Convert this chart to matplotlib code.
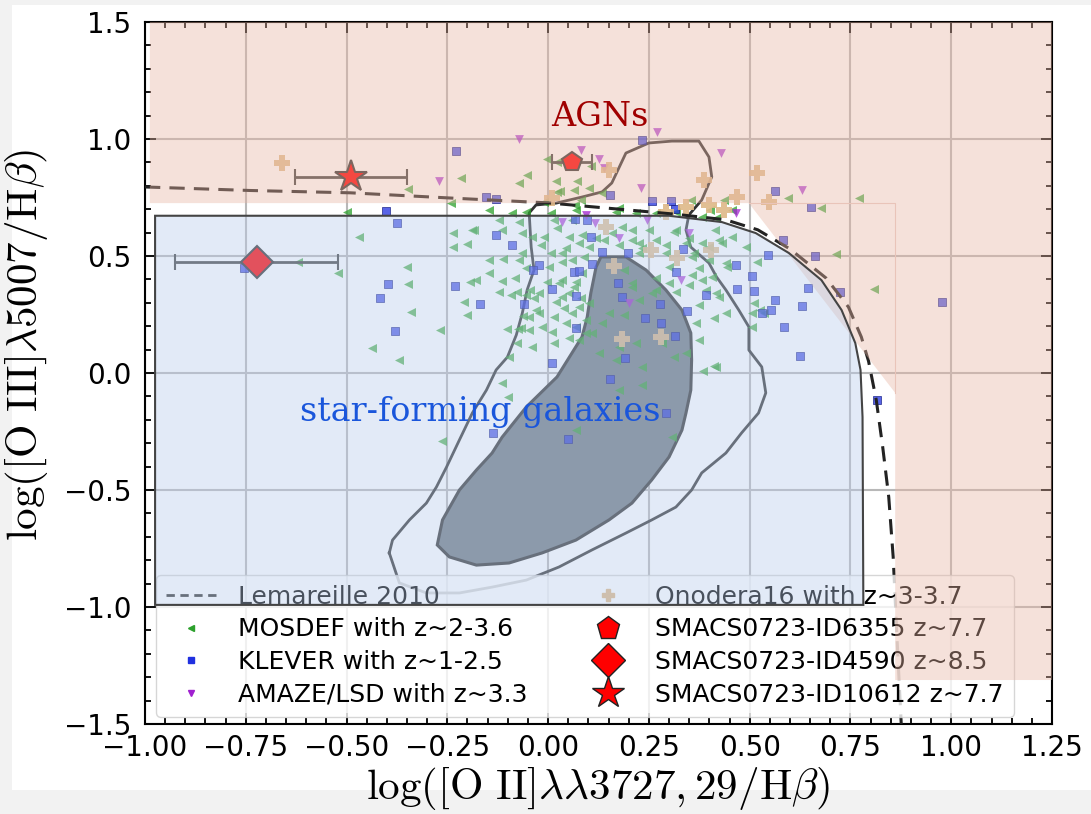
import matplotlib
matplotlib.use('Agg')
import matplotlib.pyplot as plt
from matplotlib.patches import Polygon, Rectangle
from matplotlib.lines import Line2D
from matplotlib.ticker import MultipleLocator, AutoMinorLocator

# Fonts: sans for ticks/legend, computer-modern math for axis labels
plt.rcParams['font.family'] = ['DejaVu Sans']
plt.rcParams['mathtext.fontset'] = 'cm'

# ---------------- data ----------------
# MOSDEF z~2-3.6 (green left triangles)
mosdef_x = [-0.215, -0.347, -0.072, -0.052, -0.002, 0.020, 0.072, 0.106, 0.030, 0.064,
            0.101, -0.500, -0.240, -0.146, -0.468, -0.235, -0.235, -0.200, -0.188, -0.621,
            -0.522, -0.349, -0.347, -0.193, -0.114, -0.082, -0.146, -0.111, -0.064, -0.208,
            -0.200, -0.339, -0.267, -0.438, -0.101, -0.047, -0.121, -0.040, -0.010, 0.015,
            0.059, 0.052, 0.045, 0.077, 0.101, 0.158, 0.176, 0.208, 0.007, 0.035,
            0.002, -0.002, 0.027, 0.052, 0.020, -0.022, 0.015, 0.059, -0.054, 0.077,
            0.101, 0.010, 0.052, 0.094, 0.188, 0.208, -0.369, -0.114, -0.077, -0.067,
            -0.146, -0.092, -0.045, -0.074, -0.015, -0.099, -0.262, 0.035, 0.064, 0.040,
            0.069, 0.094, 0.035, -0.030, -0.062, 0.225, 0.267, 0.151, 0.188, 0.134,
            0.109, 0.218, 0.176, 0.282, 0.312, 0.342, 0.233, 0.126, 0.168, 0.208,
            0.257, 0.366, 0.411, 0.384, 0.317, 0.299, 0.267, 0.391, 0.416, 0.356,
            0.374, 0.361, 0.398, 0.441, 0.292, 0.225, 0.084, 0.059, 0.089, 0.225,
            0.292, 0.381, 0.431, 0.022, 0.067, -0.010, -0.089, -0.054, 0.007, 0.069,
            0.168, 0.218, 0.267, 0.317, 0.381, 0.416, -0.183, -0.114, -0.072, -0.064,
            -0.017, 0.022, 0.084, 0.119, 0.139, 0.183, 0.208, 0.233, 0.250, 0.267,
            0.312, 0.342, 0.356, 0.398, 0.381, -0.072, -0.054, 0.035, 0.069, -0.022,
            0.082, -0.035, -0.178, -0.121, -0.047, 0.045, 0.015, -0.077, -0.040, 0.077,
            -0.097, 0.299, 0.349, 0.374, 0.411, 0.374, 0.022, 0.134, 0.082, 0.176,
            0.354, 0.401, 0.436, 0.455, 0.317, 0.349, 0.423, 0.455, 0.490, 0.517,
            0.406, 0.423, 0.441, 0.505, 0.535, 0.505, 0.510, 0.594, 0.678, 0.772,
            0.715, 0.809, 0.443, 0.413, 0.525, 0.416, 0.069, 0.176, 0.233, 0.307]
mosdef_y = [0.833, 0.786, 0.812, 0.846, 0.915, 0.821, 0.821, 0.885, 0.778, 0.782,
            0.791, 0.688, 0.727, 0.697, 0.581, 0.598, 0.539, 0.551, 0.611, 0.474,
            0.427, 0.453, 0.380, 0.389, 0.393, 0.406, 0.483, 0.487, 0.513, 0.303,
            0.248, 0.261, 0.184, 0.107, 0.188, 0.184, 0.654, 0.581, 0.581, 0.654,
            0.654, 0.581, 0.534, 0.556, 0.539, 0.598, 0.547, 0.568, 0.513, 0.513,
            0.453, 0.389, 0.385, 0.342, 0.303, 0.256, 0.239, 0.256, 0.333, 0.282,
            0.299, 0.175, 0.150, 0.171, 0.440, 0.368, 0.056, -0.043, 0.346, 0.192,
            0.427, 0.333, 0.355, 0.188, 0.197, -0.103, -0.291, 0.397, 0.368, 0.278,
            0.197, 0.227, 0.325, 0.269, 0.244, 0.312, 0.355, 0.256, 0.248, 0.214,
            0.171, 0.128, 0.111, 0.128, 0.068, 0.085, 0.026, 0.085, 0.056, 0.385,
            0.342, 0.214, 0.030, 0.009, 0.346, 0.385, 0.406, 0.355, 0.342, 0.419,
            0.449, 0.513, 0.483, 0.470, 0.513, 0.513, 0.427, 0.483, 0.496, 0.556,
            0.547, 0.556, 0.556, 0.774, 0.718, 0.731, 0.684, 0.688, 0.684, 0.697,
            0.688, 0.684, 0.684, 0.688, 0.667, 0.662, 0.611, 0.611, 0.645, 0.598,
            0.547, 0.620, 0.590, 0.577, 0.568, 0.624, 0.611, 0.534, 0.611, 0.568,
            0.603, 0.556, 0.496, 0.539, 0.397, 0.483, 0.449, 0.474, 0.389, 0.342,
            0.321, 0.321, 0.397, 0.346, 0.239, 0.214, 0.128, 0.128, 0.111, 0.141,
            0.068, 0.453, 0.376, 0.141, 0.235, 0.291, 0.902, 0.769, 0.739, 0.705,
            0.739, 0.697, 0.739, 0.697, 0.611, 0.577, 0.568, 0.581, 0.539, 0.474,
            0.410, 0.325, 0.256, 0.256, 0.256, 0.197, 0.299, 0.748, 0.705, 0.748,
            0.509, 0.359, 0.453, 0.611, 0.269, 0.026, -0.244, -0.073, -0.051, -0.274]

# KLEVER z~1-2.5 (blue squares)
klever_x = [-0.228, -0.153, -0.129, -0.403, -0.376, -0.129, -0.089, -0.022, -0.037, -0.398,
            -0.416, -0.230, -0.168, -0.059, -0.381, -0.755, 0.010, 0.064, 0.069, 0.109,
            0.134, 0.198, 0.173, 0.183, 0.153, 0.106, 0.257, 0.304, 0.314, 0.067,
            0.097, 0.077, 0.069, 0.277, 0.240, 0.280, 0.314, 0.334, 0.317, 0.344,
            0.391, 0.191, 0.153, 0.465, 0.468, 0.292, 0.010, -0.136, 0.050, 0.233,
            0.510, 0.505, 0.564, 0.530, 0.584, 0.629, 0.644, 0.626, 0.582, 0.545,
            0.661, 0.723, 0.653, 0.562, 0.978, 0.817, 0.554]
klever_y = [0.949, 0.752, 0.744, 0.692, 0.641, 0.590, 0.547, 0.462, 0.440, 0.380,
            0.321, 0.372, 0.295, 0.295, 0.179, 0.449, 0.359, 0.432, 0.192, 0.466,
            0.517, 0.513, 0.385, 0.325, 0.761, 0.581, 0.735, 0.735, 0.701, 0.658,
            0.654, 0.436, 0.329, 0.295, 0.235, 0.214, 0.158, 0.530, 0.432, 0.265,
            0.333, 0.064, -0.026, 0.462, 0.359, -0.171, 0.043, -0.256, -0.282, 0.996,
            0.350, 0.415, 0.312, 0.256, 0.197, 0.286, 0.363, 0.073, 0.568, 0.504,
            0.500, 0.346, 0.709, 0.778, 0.303, -0.115, 0.269]

# AMAZE/LSD z~3.3 (purple down triangles)
amaze_x = [-0.072, -0.270, 0.082, 0.126, 0.139, 0.035, 0.094, 0.176, 0.270, 0.230,
           0.428, 0.465, 0.329, 0.349, 0.116, 0.245, 0.631, 0.200]
amaze_y = [1.000, 0.821, 0.953, 0.915, 0.876, 0.645, 0.675, 0.577, 1.030, 0.791,
           0.940, 0.684, 0.397, 0.598, 0.641, 0.654, 0.782, 0.299]

# Onodera16 z~3-3.7 (tan plus)
onodera_x = [-0.661, 0.151, 0.010, 0.144, 0.163, 0.183, 0.386, 0.517, 0.468, 0.547,
             0.398, 0.436, 0.342, 0.292, 0.403, 0.319, 0.255, 0.280]
onodera_y = [0.897, 0.868, 0.748, 0.624, 0.457, 0.145, 0.825, 0.855, 0.752, 0.731,
             0.718, 0.697, 0.710, 0.688, 0.526, 0.491, 0.526, 0.154]

# SMACS0723 sources: x, y, x error
id6355 = (0.059, 0.902, 0.05)
id4590 = (-0.723, 0.474, 0.203)
id10612 = (-0.488, 0.838, 0.139)

# Lemareille 2010 demarcation
lem_x = [-1.0, -0.74, -0.49, -0.245, 0.0, 0.144, 0.307, 0.44, 0.52, 0.60, 0.69, 0.745,
         0.777, 0.795, 0.814, 0.83, 0.845, 0.856, 0.866, 0.876]
lem_y = [0.795, 0.78, 0.77, 0.748, 0.727, 0.705, 0.68, 0.655, 0.612, 0.53, 0.405, 0.282,
         0.154, 0.05, -0.115, -0.316, -0.53, -0.786, -1.15, -1.5]

# density contours of local SDSS galaxies
outer_x = [-0.394, -0.386, -0.344, -0.302, -0.277, -0.252, -0.220, -0.188, -0.153, -0.129,
           -0.101, -0.079, -0.064, -0.052, -0.035, -0.042, -0.047, -0.030, 0.020, 0.084,
           0.134, 0.158, 0.193, 0.250, 0.307, 0.374, 0.399, 0.406, 0.381, 0.349,
           0.342, 0.354, 0.399, 0.418, 0.441, 0.473, 0.498, 0.498, 0.530, 0.540,
           0.522, 0.480, 0.441, 0.381, 0.356, 0.317, 0.257, 0.193, 0.109, 0.027,
           -0.054, -0.139, -0.220, -0.302, -0.369]
outer_y = [-0.769, -0.714, -0.628, -0.556, -0.487, -0.402, -0.286, -0.171, -0.073, 0.013,
           0.068, 0.162, 0.256, 0.355, 0.440, 0.538, 0.684, 0.718, 0.726, 0.752,
           0.774, 0.812, 0.940, 0.983, 0.991, 0.991, 0.923, 0.838, 0.739, 0.675,
           0.611, 0.538, 0.470, 0.410, 0.355, 0.269, 0.197, 0.098, 0.026, -0.085,
           -0.171, -0.256, -0.342, -0.427, -0.500, -0.573, -0.628, -0.684, -0.756, -0.829,
           -0.885, -0.915, -0.940, -0.940, -0.897]
inner_x = [0.131, 0.193, 0.243, 0.292, 0.332, 0.354, 0.356, 0.354, 0.342, 0.332,
           0.300, 0.257, 0.208, 0.151, 0.069, -0.015, -0.097, -0.178, -0.245, -0.275,
           -0.262, -0.220, -0.178, -0.139, -0.114, -0.054, 0.022, 0.059, 0.084, 0.097,
           0.106, 0.119]
inner_y = [0.496, 0.496, 0.440, 0.355, 0.269, 0.171, 0.056, -0.073, -0.171, -0.244,
           -0.359, -0.457, -0.556, -0.628, -0.714, -0.769, -0.812, -0.821, -0.786, -0.735,
           -0.628, -0.500, -0.415, -0.342, -0.274, -0.145, -0.017, 0.085, 0.154, 0.239,
           0.342, 0.453]

# shaded classification regions
agn_x = [-0.988, 1.26, 1.26, 0.861, 0.861, 0.498, -0.988]
agn_y = [1.5, 1.5, -1.312, -1.312, -0.085, 0.726, 0.726]
sf_x = [-0.975, -0.975, 0.30, 0.431, 0.515, 0.597, 0.678, 0.728, 0.762, 0.775, 0.780, 0.782]
sf_y = [-0.991, 0.672, 0.672, 0.645, 0.598, 0.513, 0.397, 0.269, 0.128, 0.013, -0.188, -0.991]
seam_x = [0.498, 0.861, 0.861]
seam_y = [0.726, 0.726, -0.085]


def main():
    fig = plt.figure(figsize=(10.91, 8.14), dpi=100)
    fig.patch.set_facecolor('#f2f2f2')
    fig.patches.append(Rectangle((12 / 1091, 1 - 790 / 814), 1, (790 - 5) / 814,
                                 transform=fig.transFigure, facecolor='white',
                                 edgecolor='none', zorder=-10))
    ax = fig.add_axes([145 / 1091, 1 - 724 / 814, 907 / 1091, 702 / 814])

    # contours
    ax.plot(outer_x + outer_x[:1], outer_y + outer_y[:1], color='#333333', lw=2, zorder=1)
    ax.add_patch(Polygon(list(zip(inner_x, inner_y)), closed=True, facecolor='#6f7981',
                         edgecolor='#333333', lw=2.2, zorder=1))

    # galaxy samples
    ax.scatter(mosdef_x, mosdef_y, marker='<', s=42, c='#2ca02c', alpha=0.75, linewidths=0, zorder=2)
    ax.scatter(klever_x, klever_y, marker='s', s=32, c='#2030e0', alpha=0.75,
               edgecolors='#101880', linewidths=0.6, zorder=2)
    ax.scatter(amaze_x, amaze_y, marker='v', s=40, c='#a020d0', alpha=0.75, linewidths=0, zorder=2)
    ax.scatter(onodera_x, onodera_y, marker='P', s=140, c='#deb887', alpha=0.9, linewidths=0, zorder=2)

    # demarcation line
    ax.plot(lem_x, lem_y, ls='--', color='#222222', lw=2.2, dashes=(5, 3), zorder=3)

    # SMACS0723 sources
    for (sx, sy, se), mk, ms in [(id6355, 'p', 15), (id4590, 'D', 16), (id10612, '*', 24)]:
        ax.errorbar(sx, sy, xerr=se, fmt=mk, ms=ms, mfc='red', mec='#333333', mew=1.5,
                    ecolor='#444444', elinewidth=2, capsize=6, capthick=2, zorder=4)

    # axes setup
    ax.set_xlim(-1.0, 1.25)
    ax.set_ylim(-1.5, 1.5)
    ax.xaxis.set_major_locator(MultipleLocator(0.25))
    ax.yaxis.set_major_locator(MultipleLocator(0.5))
    ax.xaxis.set_minor_locator(AutoMinorLocator(5))
    ax.yaxis.set_minor_locator(AutoMinorLocator(5))
    ax.tick_params(which='both', direction='in', top=True, right=True, width=1.3)
    ax.tick_params(which='major', length=8, labelsize=20)
    ax.tick_params(which='minor', length=4)
    ax.tick_params(axis='y', pad=10)
    ax.tick_params(axis='x', pad=7)
    for sp in ax.spines.values():
        sp.set_linewidth(1.5)
    ax.grid(True, which='major', color='#b8b8b8', lw=1.5)
    ax.set_axisbelow(True)

    ax.set_xlabel(r'$\log([\mathrm{O\ II}]\lambda\lambda3727,29/\mathrm{H}\beta)$', fontsize=31)
    ax.set_ylabel(r'$\log([\mathrm{O\ III}]\lambda5007/\mathrm{H}\beta)$', fontsize=31)
    ax.xaxis.set_label_coords(0.5, -0.058)
    ax.yaxis.set_label_coords(-0.105, 0.54)

    # legend
    handles = [
        Line2D([], [], ls='--', color='#333333', lw=2, dashes=(3, 2)),
        Line2D([], [], ls='', marker='<', ms=5, color='#2ca02c'),
        Line2D([], [], ls='', marker='s', ms=4, color='#2030e0'),
        Line2D([], [], ls='', marker='v', ms=5, color='#a020d0'),
        Line2D([], [], ls='', marker='P', ms=8, color='#deb887'),
        Line2D([], [], ls='', marker='p', ms=17, mfc='red', mec='#222222'),
        Line2D([], [], ls='', marker='D', ms=17, mfc='red', mec='#222222'),
        Line2D([], [], ls='', marker='*', ms=24, mfc='red', mec='#222222'),
    ]
    labels = ['Lemareille 2010', 'MOSDEF with z~2-3.6', 'KLEVER with z~1-2.5',
              'AMAZE/LSD with z~3.3', 'Onodera16 with z~3-3.7', 'SMACS0723-ID6355 z~7.7',
              'SMACS0723-ID4590 z~8.5', 'SMACS0723-ID10612 z~7.7']
    leg = ax.legend(handles, labels, ncol=2, loc='lower left', bbox_to_anchor=(0.012, 0.01),
                    borderaxespad=0, fontsize=18, labelspacing=0.35, handlelength=2,
                    handletextpad=0.9, columnspacing=2.2, framealpha=0.8)
    leg.set_zorder(5)

    # shaded regions drawn over everything, as in the original
    ax.add_patch(Polygon(list(zip(agn_x, agn_y)), closed=True, facecolor=(0.91, 0.71, 0.64, 0.4),
                         edgecolor='none', zorder=6))
    ax.plot(seam_x, seam_y, color='#e9c4b9', lw=0.8, zorder=6)
    ax.add_patch(Polygon(list(zip(sf_x, sf_y)), closed=True, facecolor=(0.72, 0.80, 0.92, 0.4),
                         edgecolor='#444444', lw=1.5, zorder=6))

    ax.text(0.129, 1.094, 'AGNs', color='#a00000', fontsize=24, family='DejaVu Serif',
            ha='center', va='center', zorder=7)
    ax.text(-0.168, -0.167, 'star-forming galaxies', color='#1a56db', fontsize=24,
            family='DejaVu Serif', ha='center', va='center', zorder=7)

    fig.savefig('out.png', dpi=100)


if __name__ == "__main__":
    main()
